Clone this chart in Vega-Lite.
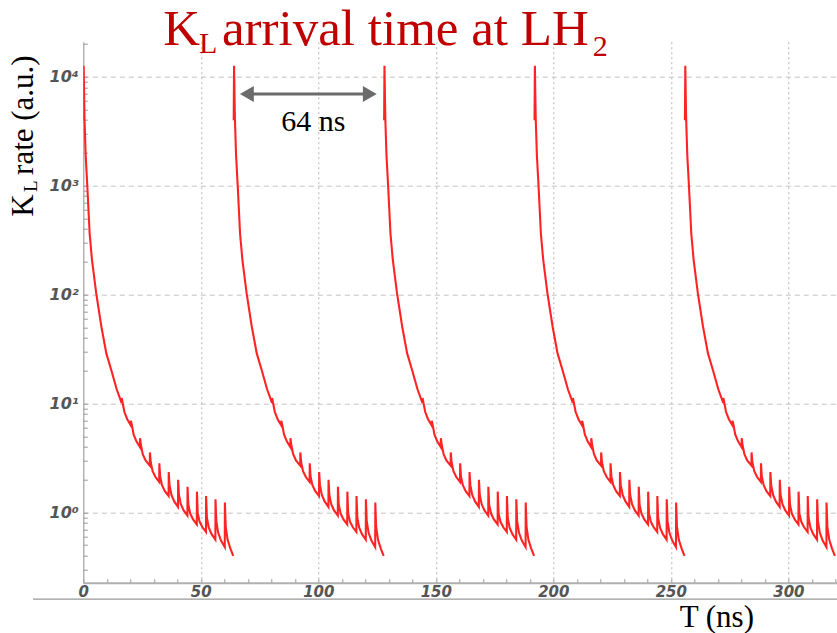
{
"$schema": "https://vega.github.io/schema/vega-lite/v6.json",
"width": 753.7, "height": 541,
"autosize": "none",
"padding": {"left": 83.3, "top": 41.7, "right": 0, "bottom": 50.3},
"background": "white",
"config": {"view": {"stroke": null}},
"datasets": {"curve": [
{"p":0,"t":0,"v":3981},{"p":0,"t":0.15,"v":12589},{"p":0,"t":0.5,"v":4169},{"p":0,"t":1,"v":1905},{"p":0,"t":1.7,"v":1000},{"p":0,"t":2.7,"v":363},{"p":0,"t":3.7,"v":207.5},{"p":0,"t":5.5,"v":102.3},{"p":0,"t":7.7,"v":50.6},{"p":0,"t":9.8,"v":28.8},{"p":0,"t":11.9,"v":20.3},{"p":0,"t":14.2,"v":13.5},{"p":0,"t":16.3,"v":10.12},{"p":0,"t":16.35,"v":11.22},{"p":0,"t":16.6,"v":10.47},{"p":0,"t":17.5,"v":8.34},{"p":0,"t":18.7,"v":7.16},{"p":0,"t":20.2,"v":6.31},{"p":0,"t":20.25,"v":6.92},{"p":0,"t":20.6,"v":6.46},{"p":0,"t":21.4,"v":5.2},{"p":0,"t":22.6,"v":4.49},{"p":0,"t":24.1,"v":3.98},{"p":0,"t":24.15,"v":4.79},{"p":0,"t":24.5,"v":4.17},{"p":0,"t":25.3,"v":3.42},{"p":0,"t":26.5,"v":3.0},{"p":0,"t":28.3,"v":2.69},{"p":0,"t":28.35,"v":3.55},{"p":0,"t":28.7,"v":2.88},{"p":0,"t":29.5,"v":2.39},{"p":0,"t":30.7,"v":2.11},{"p":0,"t":32.3,"v":1.905},{"p":0,"t":32.35,"v":2.82},{"p":0,"t":32.7,"v":2.14},{"p":0,"t":33.5,"v":1.774},{"p":0,"t":34.7,"v":1.567},{"p":0,"t":36.3,"v":1.413},{"p":0,"t":36.35,"v":2.344},{"p":0,"t":36.7,"v":1.778},{"p":0,"t":37.5,"v":1.445},{"p":0,"t":38.7,"v":1.259},{"p":0,"t":40.3,"v":1.122},{"p":0,"t":40.35,"v":1.995},{"p":0,"t":40.7,"v":1.445},{"p":0,"t":41.5,"v":1.187},{"p":0,"t":42.7,"v":1.041},{"p":0,"t":44.3,"v":0.933},{"p":0,"t":44.35,"v":1.718},{"p":0,"t":44.7,"v":1.175},{"p":0,"t":45.5,"v":0.975},{"p":0,"t":46.7,"v":0.861},{"p":0,"t":48.3,"v":0.776},{"p":0,"t":48.35,"v":1.549},{"p":0,"t":48.7,"v":0.977},{"p":0,"t":49.5,"v":0.819},{"p":0,"t":50.7,"v":0.729},{"p":0,"t":52.2,"v":0.661},{"p":0,"t":52.25,"v":1.413},{"p":0,"t":52.6,"v":0.891},{"p":0,"t":53.4,"v":0.724},{"p":0,"t":54.6,"v":0.631},{"p":0,"t":56.2,"v":0.562},{"p":0,"t":56.25,"v":1.318},{"p":0,"t":56.6,"v":0.832},{"p":0,"t":57.4,"v":0.649},{"p":0,"t":58.6,"v":0.55},{"p":0,"t":60.2,"v":0.479},{"p":0,"t":60.25,"v":1.23},{"p":0,"t":60.6,"v":0.741},{"p":0,"t":61.4,"v":0.56},{"p":0,"t":62.6,"v":0.465},{"p":0,"t":63.8,"v":0.398},
{"p":1,"t":64,"v":3981},{"p":1,"t":64.15,"v":12589},{"p":1,"t":64.5,"v":4169},{"p":1,"t":65,"v":1905},{"p":1,"t":65.7,"v":1000},{"p":1,"t":66.7,"v":363},{"p":1,"t":67.7,"v":207.5},{"p":1,"t":69.5,"v":102.3},{"p":1,"t":71.7,"v":50.6},{"p":1,"t":73.8,"v":28.8},{"p":1,"t":75.9,"v":20.3},{"p":1,"t":78.2,"v":13.5},{"p":1,"t":80.3,"v":10.12},{"p":1,"t":80.35,"v":11.22},{"p":1,"t":80.6,"v":10.47},{"p":1,"t":81.5,"v":8.34},{"p":1,"t":82.7,"v":7.16},{"p":1,"t":84.2,"v":6.31},{"p":1,"t":84.25,"v":6.92},{"p":1,"t":84.6,"v":6.46},{"p":1,"t":85.4,"v":5.2},{"p":1,"t":86.6,"v":4.49},{"p":1,"t":88.1,"v":3.98},{"p":1,"t":88.15,"v":4.79},{"p":1,"t":88.5,"v":4.17},{"p":1,"t":89.3,"v":3.42},{"p":1,"t":90.5,"v":3.0},{"p":1,"t":92.3,"v":2.69},{"p":1,"t":92.35,"v":3.55},{"p":1,"t":92.7,"v":2.88},{"p":1,"t":93.5,"v":2.39},{"p":1,"t":94.7,"v":2.11},{"p":1,"t":96.3,"v":1.905},{"p":1,"t":96.35,"v":2.82},{"p":1,"t":96.7,"v":2.14},{"p":1,"t":97.5,"v":1.774},{"p":1,"t":98.7,"v":1.567},{"p":1,"t":100.3,"v":1.413},{"p":1,"t":100.35,"v":2.344},{"p":1,"t":100.7,"v":1.778},{"p":1,"t":101.5,"v":1.445},{"p":1,"t":102.7,"v":1.259},{"p":1,"t":104.3,"v":1.122},{"p":1,"t":104.35,"v":1.995},{"p":1,"t":104.7,"v":1.445},{"p":1,"t":105.5,"v":1.187},{"p":1,"t":106.7,"v":1.041},{"p":1,"t":108.3,"v":0.933},{"p":1,"t":108.35,"v":1.718},{"p":1,"t":108.7,"v":1.175},{"p":1,"t":109.5,"v":0.975},{"p":1,"t":110.7,"v":0.861},{"p":1,"t":112.3,"v":0.776},{"p":1,"t":112.35,"v":1.549},{"p":1,"t":112.7,"v":0.977},{"p":1,"t":113.5,"v":0.819},{"p":1,"t":114.7,"v":0.729},{"p":1,"t":116.2,"v":0.661},{"p":1,"t":116.25,"v":1.413},{"p":1,"t":116.6,"v":0.891},{"p":1,"t":117.4,"v":0.724},{"p":1,"t":118.6,"v":0.631},{"p":1,"t":120.2,"v":0.562},{"p":1,"t":120.25,"v":1.318},{"p":1,"t":120.6,"v":0.832},{"p":1,"t":121.4,"v":0.649},{"p":1,"t":122.6,"v":0.55},{"p":1,"t":124.2,"v":0.479},{"p":1,"t":124.25,"v":1.23},{"p":1,"t":124.6,"v":0.741},{"p":1,"t":125.4,"v":0.56},{"p":1,"t":126.6,"v":0.465},{"p":1,"t":127.8,"v":0.398},
{"p":2,"t":128,"v":3981},{"p":2,"t":128.15,"v":12589},{"p":2,"t":128.5,"v":4169},{"p":2,"t":129,"v":1905},{"p":2,"t":129.7,"v":1000},{"p":2,"t":130.7,"v":363},{"p":2,"t":131.7,"v":207.5},{"p":2,"t":133.5,"v":102.3},{"p":2,"t":135.7,"v":50.6},{"p":2,"t":137.8,"v":28.8},{"p":2,"t":139.9,"v":20.3},{"p":2,"t":142.2,"v":13.5},{"p":2,"t":144.3,"v":10.12},{"p":2,"t":144.35,"v":11.22},{"p":2,"t":144.6,"v":10.47},{"p":2,"t":145.5,"v":8.34},{"p":2,"t":146.7,"v":7.16},{"p":2,"t":148.2,"v":6.31},{"p":2,"t":148.25,"v":6.92},{"p":2,"t":148.6,"v":6.46},{"p":2,"t":149.4,"v":5.2},{"p":2,"t":150.6,"v":4.49},{"p":2,"t":152.1,"v":3.98},{"p":2,"t":152.15,"v":4.79},{"p":2,"t":152.5,"v":4.17},{"p":2,"t":153.3,"v":3.42},{"p":2,"t":154.5,"v":3.0},{"p":2,"t":156.3,"v":2.69},{"p":2,"t":156.35,"v":3.55},{"p":2,"t":156.7,"v":2.88},{"p":2,"t":157.5,"v":2.39},{"p":2,"t":158.7,"v":2.11},{"p":2,"t":160.3,"v":1.905},{"p":2,"t":160.35,"v":2.82},{"p":2,"t":160.7,"v":2.14},{"p":2,"t":161.5,"v":1.774},{"p":2,"t":162.7,"v":1.567},{"p":2,"t":164.3,"v":1.413},{"p":2,"t":164.35,"v":2.344},{"p":2,"t":164.7,"v":1.778},{"p":2,"t":165.5,"v":1.445},{"p":2,"t":166.7,"v":1.259},{"p":2,"t":168.3,"v":1.122},{"p":2,"t":168.35,"v":1.995},{"p":2,"t":168.7,"v":1.445},{"p":2,"t":169.5,"v":1.187},{"p":2,"t":170.7,"v":1.041},{"p":2,"t":172.3,"v":0.933},{"p":2,"t":172.35,"v":1.718},{"p":2,"t":172.7,"v":1.175},{"p":2,"t":173.5,"v":0.975},{"p":2,"t":174.7,"v":0.861},{"p":2,"t":176.3,"v":0.776},{"p":2,"t":176.35,"v":1.549},{"p":2,"t":176.7,"v":0.977},{"p":2,"t":177.5,"v":0.819},{"p":2,"t":178.7,"v":0.729},{"p":2,"t":180.2,"v":0.661},{"p":2,"t":180.25,"v":1.413},{"p":2,"t":180.6,"v":0.891},{"p":2,"t":181.4,"v":0.724},{"p":2,"t":182.6,"v":0.631},{"p":2,"t":184.2,"v":0.562},{"p":2,"t":184.25,"v":1.318},{"p":2,"t":184.6,"v":0.832},{"p":2,"t":185.4,"v":0.649},{"p":2,"t":186.6,"v":0.55},{"p":2,"t":188.2,"v":0.479},{"p":2,"t":188.25,"v":1.23},{"p":2,"t":188.6,"v":0.741},{"p":2,"t":189.4,"v":0.56},{"p":2,"t":190.6,"v":0.465},{"p":2,"t":191.8,"v":0.398},
{"p":3,"t":192,"v":3981},{"p":3,"t":192.15,"v":12589},{"p":3,"t":192.5,"v":4169},{"p":3,"t":193,"v":1905},{"p":3,"t":193.7,"v":1000},{"p":3,"t":194.7,"v":363},{"p":3,"t":195.7,"v":207.5},{"p":3,"t":197.5,"v":102.3},{"p":3,"t":199.7,"v":50.6},{"p":3,"t":201.8,"v":28.8},{"p":3,"t":203.9,"v":20.3},{"p":3,"t":206.2,"v":13.5},{"p":3,"t":208.3,"v":10.12},{"p":3,"t":208.35,"v":11.22},{"p":3,"t":208.6,"v":10.47},{"p":3,"t":209.5,"v":8.34},{"p":3,"t":210.7,"v":7.16},{"p":3,"t":212.2,"v":6.31},{"p":3,"t":212.25,"v":6.92},{"p":3,"t":212.6,"v":6.46},{"p":3,"t":213.4,"v":5.2},{"p":3,"t":214.6,"v":4.49},{"p":3,"t":216.1,"v":3.98},{"p":3,"t":216.15,"v":4.79},{"p":3,"t":216.5,"v":4.17},{"p":3,"t":217.3,"v":3.42},{"p":3,"t":218.5,"v":3.0},{"p":3,"t":220.3,"v":2.69},{"p":3,"t":220.35,"v":3.55},{"p":3,"t":220.7,"v":2.88},{"p":3,"t":221.5,"v":2.39},{"p":3,"t":222.7,"v":2.11},{"p":3,"t":224.3,"v":1.905},{"p":3,"t":224.35,"v":2.82},{"p":3,"t":224.7,"v":2.14},{"p":3,"t":225.5,"v":1.774},{"p":3,"t":226.7,"v":1.567},{"p":3,"t":228.3,"v":1.413},{"p":3,"t":228.35,"v":2.344},{"p":3,"t":228.7,"v":1.778},{"p":3,"t":229.5,"v":1.445},{"p":3,"t":230.7,"v":1.259},{"p":3,"t":232.3,"v":1.122},{"p":3,"t":232.35,"v":1.995},{"p":3,"t":232.7,"v":1.445},{"p":3,"t":233.5,"v":1.187},{"p":3,"t":234.7,"v":1.041},{"p":3,"t":236.3,"v":0.933},{"p":3,"t":236.35,"v":1.718},{"p":3,"t":236.7,"v":1.175},{"p":3,"t":237.5,"v":0.975},{"p":3,"t":238.7,"v":0.861},{"p":3,"t":240.3,"v":0.776},{"p":3,"t":240.35,"v":1.549},{"p":3,"t":240.7,"v":0.977},{"p":3,"t":241.5,"v":0.819},{"p":3,"t":242.7,"v":0.729},{"p":3,"t":244.2,"v":0.661},{"p":3,"t":244.25,"v":1.413},{"p":3,"t":244.6,"v":0.891},{"p":3,"t":245.4,"v":0.724},{"p":3,"t":246.6,"v":0.631},{"p":3,"t":248.2,"v":0.562},{"p":3,"t":248.25,"v":1.318},{"p":3,"t":248.6,"v":0.832},{"p":3,"t":249.4,"v":0.649},{"p":3,"t":250.6,"v":0.55},{"p":3,"t":252.2,"v":0.479},{"p":3,"t":252.25,"v":1.23},{"p":3,"t":252.6,"v":0.741},{"p":3,"t":253.4,"v":0.56},{"p":3,"t":254.6,"v":0.465},{"p":3,"t":255.8,"v":0.398},
{"p":4,"t":256,"v":3981},{"p":4,"t":256.15,"v":12589},{"p":4,"t":256.5,"v":4169},{"p":4,"t":257,"v":1905},{"p":4,"t":257.7,"v":1000},{"p":4,"t":258.7,"v":363},{"p":4,"t":259.7,"v":207.5},{"p":4,"t":261.5,"v":102.3},{"p":4,"t":263.7,"v":50.6},{"p":4,"t":265.8,"v":28.8},{"p":4,"t":267.9,"v":20.3},{"p":4,"t":270.2,"v":13.5},{"p":4,"t":272.3,"v":10.12},{"p":4,"t":272.35,"v":11.22},{"p":4,"t":272.6,"v":10.47},{"p":4,"t":273.5,"v":8.34},{"p":4,"t":274.7,"v":7.16},{"p":4,"t":276.2,"v":6.31},{"p":4,"t":276.25,"v":6.92},{"p":4,"t":276.6,"v":6.46},{"p":4,"t":277.4,"v":5.2},{"p":4,"t":278.6,"v":4.49},{"p":4,"t":280.1,"v":3.98},{"p":4,"t":280.15,"v":4.79},{"p":4,"t":280.5,"v":4.17},{"p":4,"t":281.3,"v":3.42},{"p":4,"t":282.5,"v":3.0},{"p":4,"t":284.3,"v":2.69},{"p":4,"t":284.35,"v":3.55},{"p":4,"t":284.7,"v":2.88},{"p":4,"t":285.5,"v":2.39},{"p":4,"t":286.7,"v":2.11},{"p":4,"t":288.3,"v":1.905},{"p":4,"t":288.35,"v":2.82},{"p":4,"t":288.7,"v":2.14},{"p":4,"t":289.5,"v":1.774},{"p":4,"t":290.7,"v":1.567},{"p":4,"t":292.3,"v":1.413},{"p":4,"t":292.35,"v":2.344},{"p":4,"t":292.7,"v":1.778},{"p":4,"t":293.5,"v":1.445},{"p":4,"t":294.7,"v":1.259},{"p":4,"t":296.3,"v":1.122},{"p":4,"t":296.35,"v":1.995},{"p":4,"t":296.7,"v":1.445},{"p":4,"t":297.5,"v":1.187},{"p":4,"t":298.7,"v":1.041},{"p":4,"t":300.3,"v":0.933},{"p":4,"t":300.35,"v":1.718},{"p":4,"t":300.7,"v":1.175},{"p":4,"t":301.5,"v":0.975},{"p":4,"t":302.7,"v":0.861},{"p":4,"t":304.3,"v":0.776},{"p":4,"t":304.35,"v":1.549},{"p":4,"t":304.7,"v":0.977},{"p":4,"t":305.5,"v":0.819},{"p":4,"t":306.7,"v":0.729},{"p":4,"t":308.2,"v":0.661},{"p":4,"t":308.25,"v":1.413},{"p":4,"t":308.6,"v":0.891},{"p":4,"t":309.4,"v":0.724},{"p":4,"t":310.6,"v":0.631},{"p":4,"t":312.2,"v":0.562},{"p":4,"t":312.25,"v":1.318},{"p":4,"t":312.6,"v":0.832},{"p":4,"t":313.4,"v":0.649},{"p":4,"t":314.6,"v":0.55},{"p":4,"t":316.2,"v":0.479},{"p":4,"t":316.25,"v":1.23},{"p":4,"t":316.6,"v":0.741},{"p":4,"t":317.4,"v":0.56},{"p":4,"t":318.6,"v":0.465},{"p":4,"t":319.8,"v":0.398}
]},
"layer": [
{
"data": {"name": "curve"},
"mark": {"type": "line", "color": "#ff2424", "strokeWidth": 2.1, "clip": true},
"encoding": {
"x": {"field": "t", "type": "quantitative",
 "scale": {"domain": [0, 320.7], "nice": false, "zero": false},
 "axis": {
  "values": [0,10,20,30,40,50,60,70,80,90,100,110,120,130,140,150,160,170,180,190,200,210,220,230,240,250,260,270,280,290,300,310,320],
  "tickCount": 500,
  "labelExpr": "datum.value % 50 === 0 ? format(datum.value, 'd') : ''",
  "labelFlush": false, "labelOverlap": false,
  "grid": true, "gridDash": [2, 3], "gridColor": "#b5b5b5",
  "gridOpacity": {"condition": {"test": "datum.value % 50 === 0 && datum.value > 0", "value": 1}, "value": 0},
  "tickSize": -4, "tickColor": "#999", "tickWidth": 1,
  "domainColor": "#b0b0b0", "domainWidth": 2,
  "labelFont": "DejaVu Sans", "labelFontStyle": "italic", "labelFontWeight": "bold", "labelColor": "#555555", "labelFontSize": 15,
  "labelBaseline": "top",
  "labelPadding": 6,
  "title": "T (ns)", "titleFont": "Liberation Serif", "titleFontSize": 31, "titleFontWeight": "normal", "titleColor": "#000000",
  "titleX": 633, "titleY": 44, "titleAlign": "center", "titleBaseline": "alphabetic"
 }},
"y": {"field": "v", "type": "quantitative",
 "scale": {"type": "log", "domain": [0.226, 20950], "nice": false},
 "axis": {
  "values": [0.3,0.4,0.5,0.6,0.7,0.8,0.9,1,2,3,4,5,6,7,8,9,10,20,30,40,50,60,70,80,90,100,200,300,400,500,600,700,800,900,1000,2000,3000,4000,5000,6000,7000,8000,9000,10000,20000],
  "tickCount": 500,
  "labelExpr": "datum.value === 1 ? '10⁰' : datum.value === 10 ? '10¹' : datum.value === 100 ? '10²' : datum.value === 1000 ? '10³' : datum.value === 10000 ? '10⁴' : ''",
  "labelOverlap": false,
  "grid": true, "gridDash": [5, 4], "gridColor": "#c2c2c2",
  "gridOpacity": {"condition": {"test": "indexof([1,10,100,1000,10000], datum.value) >= 0", "value": 1}, "value": 0},
  "tickSize": -4, "tickColor": "#999", "tickWidth": 1,
  "domainColor": "#a0a0a0", "domainWidth": 1.2,
  "labelFont": "DejaVu Sans", "labelFontStyle": "italic", "labelFontWeight": "bold", "labelColor": "#555555", "labelFontSize": 16,
  "labelPadding": 9,
  "title": null
 }},
"detail": {"field": "p", "type": "nominal"}
}
},
{"data": {"values": [{}]}, "mark": {"type": "rule", "color": "#999999", "strokeWidth": 1.2},
 "encoding": {"x": {"datum": -21.4, "type": "quantitative"}, "x2": {"datum": 320.7}, "y": {"datum": 0.16, "type": "quantitative"}}},
{"data": {"values": [{}]}, "mark": {"type": "rule", "color": "#6b6b6b", "strokeWidth": 3},
 "encoding": {"x": {"datum": 69.6, "type": "quantitative"}, "x2": {"datum": 121.9}, "y": {"datum": 6934, "type": "quantitative"}}},
{"data": {"values": [{}]}, "mark": {"type": "point", "shape": "triangle-left", "size": 256, "filled": true, "color": "#6b6b6b", "opacity": 1},
 "encoding": {"x": {"datum": 69.6, "type": "quantitative"}, "y": {"datum": 6934, "type": "quantitative"}}},
{"data": {"values": [{}]}, "mark": {"type": "point", "shape": "triangle-right", "size": 256, "filled": true, "color": "#6b6b6b", "opacity": 1},
 "encoding": {"x": {"datum": 121.9, "type": "quantitative"}, "y": {"datum": 6934, "type": "quantitative"}}},
{"data": {"values": [{}]}, "mark": {"type": "text", "text": "64 ns", "font": "Liberation Serif", "fontSize": 30, "color": "#000000", "align": "center", "baseline": "alphabetic"},
 "encoding": {"x": {"datum": 97.9, "type": "quantitative"}, "y": {"datum": 3192, "type": "quantitative"}}},
{"data": {"values": [{}]}, "mark": {"type": "text", "text": "K", "font": "Liberation Serif", "fontSize": 51, "color": "#C00000", "align": "left", "baseline": "alphabetic"},
 "encoding": {"x": {"datum": 34.0, "type": "quantitative"}, "y": {"datum": 19540, "type": "quantitative"}}},
{"data": {"values": [{}]}, "mark": {"type": "text", "text": "L", "font": "Liberation Serif", "fontSize": 30, "color": "#C00000", "align": "left", "baseline": "alphabetic"},
 "encoding": {"x": {"datum": 49.2, "type": "quantitative"}, "y": {"datum": 16510, "type": "quantitative"}}},
{"data": {"values": [{}]}, "mark": {"type": "text", "text": "arrival time at LH", "font": "Liberation Serif", "fontSize": 51, "color": "#C00000", "align": "left", "baseline": "alphabetic"},
 "encoding": {"x": {"datum": 59.0, "type": "quantitative"}, "y": {"datum": 19540, "type": "quantitative"}}},
{"data": {"values": [{}]}, "mark": {"type": "text", "text": "2", "font": "Liberation Serif", "fontSize": 30, "color": "#C00000", "align": "left", "baseline": "alphabetic"},
 "encoding": {"x": {"datum": 216.8, "type": "quantitative"}, "y": {"datum": 15490, "type": "quantitative"}}},
{"data": {"values": [{}]}, "mark": {"type": "text", "text": "K", "font": "Liberation Serif", "fontSize": 31, "color": "#000000", "align": "left", "baseline": "alphabetic", "angle": 270},
 "encoding": {"x": {"datum": -21.2, "type": "quantitative"}, "y": {"datum": 518, "type": "quantitative"}}},
{"data": {"values": [{}]}, "mark": {"type": "text", "text": "L", "font": "Liberation Serif", "fontSize": 19, "color": "#000000", "align": "left", "baseline": "alphabetic", "angle": 270},
 "encoding": {"x": {"datum": -19.5, "type": "quantitative"}, "y": {"datum": 873, "type": "quantitative"}}},
{"data": {"values": [{}]}, "mark": {"type": "text", "text": "rate (a.u.)", "font": "Liberation Serif", "fontSize": 31, "color": "#000000", "align": "left", "baseline": "alphabetic", "angle": 270},
 "encoding": {"x": {"datum": -21.2, "type": "quantitative"}, "y": {"datum": 1253, "type": "quantitative"}}}
]
}
